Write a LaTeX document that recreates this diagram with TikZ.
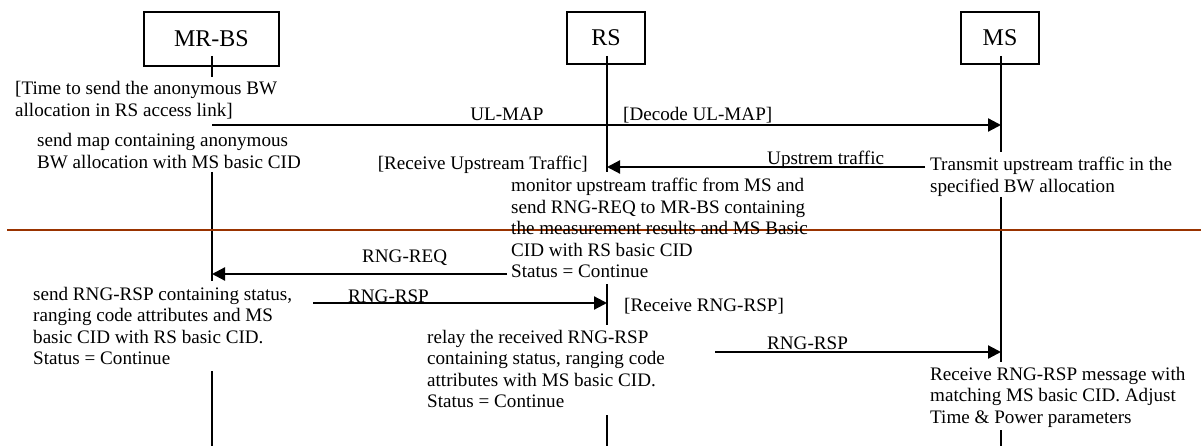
\documentclass[tikz,border=0pt]{standalone}
\usepackage{fontspec}
\setmainfont{Liberation Serif}
\usetikzlibrary{arrows.meta}
\definecolor{sepline}{RGB}{153,51,0}
\tikzset{
  actor/.style={draw, line width=1.3pt, inner sep=0pt, font=\fontsize{24}{28}\selectfont},
  life/.style={line width=1.4pt},
  msg/.style={line width=2.2pt, -{Triangle[length=13pt,width=13pt]}},
  lbl/.style={inner sep=0pt, font=\fontsize{19.1}{21.5}\selectfont},
}
\newcommand\mlines[1]{\begin{tabular}[t]{@{}l@{}}#1\end{tabular}}
\begin{document}
\begin{tikzpicture}[x=1pt,y=-1pt]
\useasboundingbox (0,0) rectangle (1201,446);
% actors
\node[actor, minimum width=135pt, minimum height=54pt] (mrbs) at (211.5,39) {MR-BS};
\node[actor, minimum width=78pt, minimum height=52pt] (rs) at (606,38) {RS};
\node[actor, minimum width=78pt, minimum height=52pt] (ms) at (1000,38) {MS};
% lifeline points
\coordinate (b0) at (212,56); \coordinate (b1) at (212,77);
\coordinate (b2) at (212,125); \coordinate (b3) at (212,172);
\coordinate (b4) at (212,281); \coordinate (b5) at (212,371);
\coordinate (b6) at (212,446);
\coordinate (r0) at (607,56); \coordinate (r1) at (607,172);
\coordinate (r2) at (607,284); \coordinate (r3) at (607,325);
\coordinate (r4) at (607,415); \coordinate (r5) at (607,446);
\coordinate (m0) at (1001,56); \coordinate (m1) at (1001,152);
\coordinate (m2) at (1001,197); \coordinate (m3) at (1001,362);
\coordinate (m4) at (1001,430); \coordinate (m5) at (1001,446);
\draw[life] (b0) -- (b1) (b3) -- (b4) (b5) -- (b6);
\draw[life] (r0) -- (r1) (r2) -- (r3) (r4) -- (r5);
\draw[life] (m0) -- (m1) (m2) -- (m3) (m4) -- (m5);
% separator
\coordinate (s0) at (7,230); \coordinate (s1) at (1201,230);
\draw[line width=2.5pt, sepline] (s0) -- (s1);
% messages
\coordinate (ulA) at (212,125); \coordinate (ulB) at (1001,125);
\draw[msg] (ulA) -- (ulB);
\coordinate (upA) at (925,167); \coordinate (upB) at (607,167);
\draw[msg] (upA) -- (upB);
\coordinate (rqA) at (507,274); \coordinate (rqB) at (212,274);
\draw[msg] (rqA) -- (rqB);
\coordinate (rpA) at (313,303); \coordinate (rpB) at (607,303);
\draw[msg] (rpA) -- (rpB);
\coordinate (rp2A) at (715,352); \coordinate (rp2B) at (1001,352);
\draw[msg] (rp2A) -- (rp2B);
% labels
\node[lbl, anchor=base] (l1) at (507,121) {UL-MAP};
\node[lbl, anchor=base west] (l2) at (623,121) {[Decode UL-MAP]};
\node[lbl, anchor=base west] (l3) at (767,165) {Upstrem traffic};
\node[lbl, anchor=base east] (l4) at (588,170) {[Receive Upstream Traffic]};
\node[lbl, anchor=base west] (l5) at (362,262) {RNG-REQ};
\node[lbl, anchor=base west] (l6) at (348,302) {RNG-RSP};
\node[lbl, anchor=base west] (l7) at (624,311) {[Receive RNG-RSP]};
\node[lbl, anchor=base west] (l8) at (767,349) {RNG-RSP};
% multi-line texts
\node[lbl, anchor=base west] (t1) at (15,95) {\mlines{[Time to send the anonymous BW\\allocation in RS access link]}};
\node[lbl, anchor=base west] (t2) at (37,147) {\mlines{send map containing anonymous\\BW allocation with MS basic CID}};
\node[lbl, anchor=base west] (t3) at (511,192) {\mlines{monitor upstream traffic from MS and\\send RNG-REQ to MR-BS containing\\the measurement results and MS Basic\\CID with RS basic CID\\Status = Continue}};
\node[lbl, anchor=base west] (t4) at (930,171) {\mlines{Transmit upstream traffic in the\\specified BW allocation}};
\node[lbl, anchor=base west] (t5) at (33,300) {\mlines{send RNG-RSP containing status,\\ranging code attributes and MS\\basic CID with RS basic CID.\\Status = Continue}};
\node[lbl, anchor=base west] (t6) at (427,343) {\mlines{relay the received RNG-RSP\\containing status, ranging code\\attributes with MS basic CID.\\Status = Continue}};
\node[lbl, anchor=base west] (t7) at (930,380) {\mlines{Receive RNG-RSP message with\\matching MS basic CID. Adjust\\Time \& Power parameters}};
\end{tikzpicture}
\end{document}
